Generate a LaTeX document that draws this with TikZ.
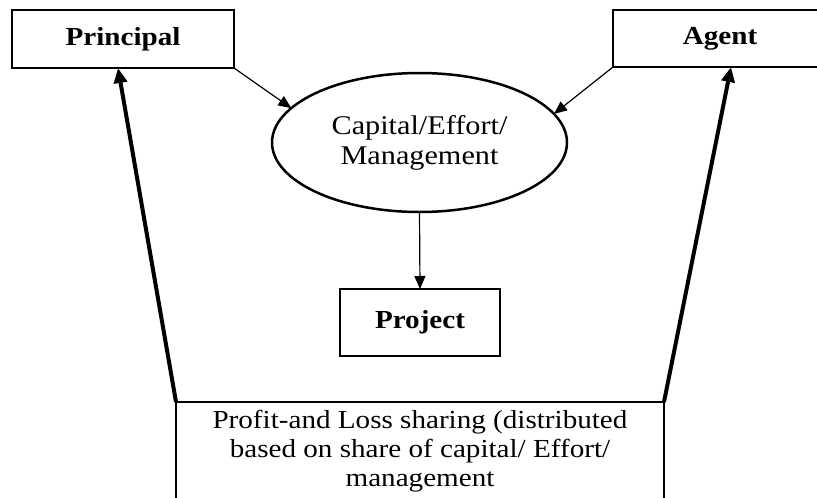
\documentclass[tikz,border=0pt]{standalone}
\usepackage{fontspec}
\setmainfont[FakeStretch=1.12]{Liberation Serif}
\usetikzlibrary{shapes.geometric,arrows.meta,calc}
\tikzset{
  boxnode/.style={draw, line width=2.5pt, rectangle, inner sep=0pt, outer sep=0pt},
  lbl/.style={font=\fontsize{26}{30}\selectfont\bfseries},
  txt/.style={font=\fontsize{27}{30}\selectfont, align=center},
  thinarrow/.style={line width=1.2pt, -{Triangle[length=13pt,width=11pt]}},
  thickarrow/.style={line width=4pt, -{Triangle[length=15pt,width=13pt]}}
}
\begin{document}
\begin{tikzpicture}[x=1pt,y=-1pt]
\useasboundingbox (0,0) rectangle (817,498);
\clip (0,0) rectangle (817,498);
\fill[white] (0,0) rectangle (817,498);
\node[boxnode, minimum width=222pt, minimum height=58pt, lbl] (principal) at (123,39) {Principal};
\node[boxnode, minimum width=217pt, minimum height=57pt] (agent) at (721.5,38.5) {};
\node[lbl] (agenttext) at (720,39) {Agent};
\node[draw, ellipse, line width=2.5pt, minimum width=295pt, minimum height=139pt, inner sep=0pt, outer sep=0pt] (cap) at (419.5,142.5) {};
\node[txt] (captext) at (419.5,142.5) {Capital/Effort/\\Management};
\node[boxnode, minimum width=160pt, minimum height=67pt, lbl] (project) at (420,322.5) {Project};
\node[boxnode, minimum width=488pt, minimum height=140pt] (pl) at (420,472) {};
\node[txt, font=\fontsize{26}{29}\selectfont] (pltext) at (420,451) {Profit-and Loss sharing (distributed\\based on share of capital/ Effort/\\management};
\draw[thinarrow] (principal.south east) -- (cap.165.7);
\draw[thinarrow] (agent.south west) -- (cap.12.3);
\draw[thinarrow] (cap.south) -- (project.north);
\draw[thickarrow] (pl.north west) -- ($(principal.south)+(-5,0)$);
\draw[thickarrow] (pl.north east) -- ($(agent.south)+(9.5,0)$);
\end{tikzpicture}
\end{document}
